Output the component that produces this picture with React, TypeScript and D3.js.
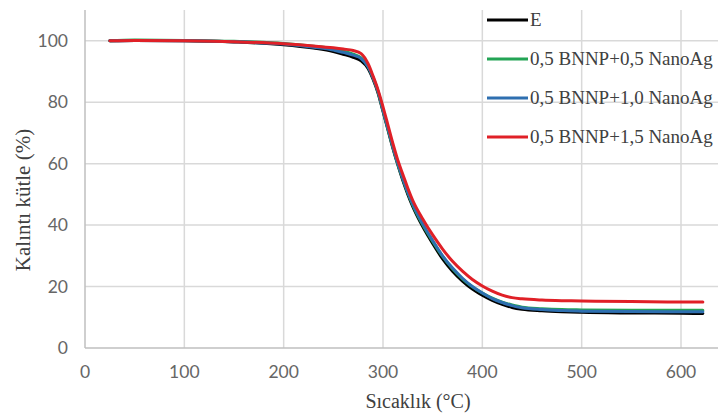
import React from "react";
import * as d3 from "d3";

const WIDTH = 720;
const HEIGHT = 416;

// temperature (°C) shared by all series
const temps = [25, 50, 100, 150, 200, 230, 250, 260, 270, 278, 285, 290, 295, 300, 305, 310, 315, 320, 325, 330, 340, 350, 360, 370, 380, 390, 400, 410, 420, 430, 440, 460, 480, 500, 550, 600, 622];

const seriesE = [100, 100.1, 100, 99.6, 98.7, 97.6, 96.5, 95.6, 94.6, 93.5, 91, 87.5, 83, 77, 71, 65, 59.5, 54.5, 50, 46, 39.5, 34, 29, 25, 21.8, 19.2, 17.2, 15.5, 14.2, 13.2, 12.6, 12.1, 11.8, 11.6, 11.4, 11.3, 11.2];
const seriesAg05 = [100, 100.2, 100.1, 99.8, 99.1, 98.2, 97.4, 96.6, 95.6, 94.4, 91.6, 88, 83.4, 77.3, 71.3, 65.3, 59.8, 55, 50.5, 46.5, 40.1, 34.7, 29.8, 25.8, 22.5, 19.9, 17.9, 16.2, 14.9, 14, 13.3, 12.8, 12.5, 12.4, 12.3, 12.3, 12.3];
const seriesAg10 = [100, 100.1, 100, 99.7, 98.9, 97.9, 97, 96.2, 95.3, 94.2, 91.5, 88, 83.5, 77.5, 71.5, 65.5, 60, 55.2, 50.7, 46.8, 40.4, 35, 30, 26, 22.7, 20, 17.9, 16.1, 14.8, 13.8, 13.1, 12.5, 12.2, 12, 11.9, 11.8, 11.8];
const seriesAg15 = [100, 100.1, 100, 99.7, 99, 98.3, 97.7, 97.3, 96.8, 95.8, 92.5, 88.5, 84, 78.5, 72.5, 66.5, 61, 56.5, 52, 48, 42, 36.8, 32.2, 28.2, 25, 22.3, 20.2, 18.5, 17.2, 16.4, 16, 15.6, 15.4, 15.3, 15.1, 15, 15];

const seriesNames = ["E", "0,5 BNNP+0,5 NanoAg", "0,5 BNNP+1,0 NanoAg", "0,5 BNNP+1,5 NanoAg"];
const seriesColors = ["#000000", "#23a455", "#2e6fb0", "#e02027"];
const allSeries = [seriesE, seriesAg05, seriesAg10, seriesAg15];

const xTicks = [0, 100, 200, 300, 400, 500, 600];
const yTicks = [0, 20, 40, 60, 80, 100];

const X_LEFT = 85;
const X_RIGHT = 718;
const Y_TOP = 10;
const Y_BOTTOM = 348;

export default function App() {
  const xScale = d3.scaleLinear().domain([0, 600]).range([X_LEFT, 681]);
  const yScale = d3.scaleLinear().domain([0, 110]).range([Y_BOTTOM, Y_TOP]);

  const line = d3
    .line<number>()
    .x((_, i) => xScale(temps[i]))
    .y((d) => yScale(d))
    .curve(d3.curveMonotoneX);

  const tickFont = "Lato, 'Liberation Sans', sans-serif";
  const serif = "'Liberation Serif', 'DejaVu Serif', serif";

  return (
    <svg
      width={WIDTH}
      height={HEIGHT}
      style={{ position: "absolute", left: 0, top: 0, background: "#fff" }}
    >
      {/* grid */}
      {yTicks.slice(1).map((t) => (
        <line key={"gy" + t} x1={X_LEFT} x2={X_RIGHT} y1={yScale(t)} y2={yScale(t)} stroke="#d9d9d9" strokeWidth={1.5} />
      ))}
      {xTicks.slice(1).map((t) => (
        <line key={"gx" + t} x1={xScale(t)} x2={xScale(t)} y1={Y_TOP} y2={Y_BOTTOM} stroke="#d9d9d9" strokeWidth={1.5} />
      ))}
      {/* axes */}
      <line x1={X_LEFT} x2={X_LEFT} y1={Y_TOP} y2={Y_BOTTOM} stroke="#bfbfbf" strokeWidth={1.5} />
      <line x1={X_LEFT} x2={X_RIGHT} y1={Y_BOTTOM} y2={Y_BOTTOM} stroke="#bfbfbf" strokeWidth={1.5} />

      {/* tick labels */}
      {yTicks.map((t) => (
        <text key={"ty" + t} x={68} y={yScale(t)} dy="0.36em" textAnchor="end" fontFamily={tickFont} fontSize={17.5} fill="#666">
          {t}
        </text>
      ))}
      {xTicks.map((t) => (
        <text key={"tx" + t} x={xScale(t)} y={378} textAnchor="middle" fontFamily={tickFont} fontSize={17.5} fill="#666">
          {t}
        </text>
      ))}

      {/* axis titles */}
      <text x={418} y={408} textAnchor="middle" fontFamily={serif} fontSize={20} fill="#404040">
        Sıcaklık (°C)
      </text>
      <text
        transform={`translate(30,200) rotate(-90)`}
        textAnchor="middle"
        fontFamily={serif}
        fontSize={21}
        fill="#404040"
      >
        Kalıntı kütle (%)
      </text>

      {/* series */}
      {allSeries.map((s, i) => (
        <path key={"s" + i} d={line(s) || ""} fill="none" stroke={seriesColors[i]} strokeWidth={3} strokeLinecap="round" />
      ))}

      {/* legend */}
      {seriesNames.map((name, i) => {
        const cy = 20 + i * 39;
        return (
          <g key={"lg" + i}>
            <line x1={487} x2={528} y1={cy} y2={cy} stroke={seriesColors[i]} strokeWidth={3} />
            <text x={530} y={cy} dy="0.33em" fontFamily={serif} fontSize={19} fill="#404040">
              {name}
            </text>
          </g>
        );
      })}
    </svg>
  );
}
